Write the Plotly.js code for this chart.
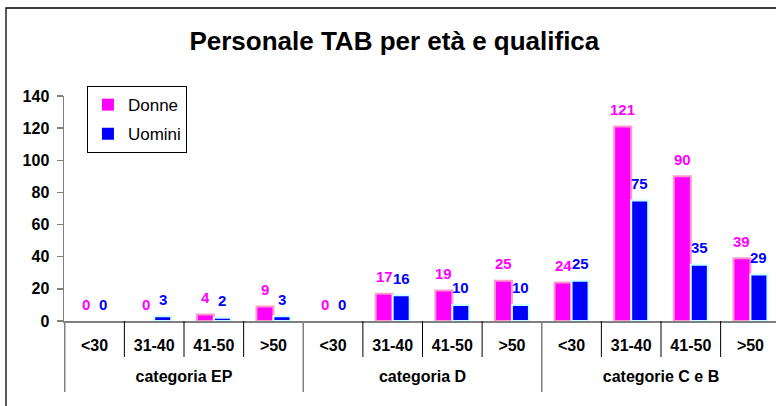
<!DOCTYPE html>
<html>
<head>
<meta charset="utf-8">
<script src="https://cdn.plot.ly/plotly-3.0.1.min.js"></script>
<style>
  html, body { margin: 0; padding: 0; background: #ffffff; overflow: hidden; }
  #chart { width: 784px; height: 406px; }
</style>
</head>
<body>
<div id="chart"></div>
<script>
// ---- data ----
const groups = ['categoria EP', 'categoria D', 'categorie C e B'];
const ages = ['<30', '31-40', '41-50', '>50'];
const donne = [0, 0, 4, 9, 0, 17, 19, 25, 24, 121, 90, 39];
const uomini = [0, 3, 2, 3, 0, 16, 10, 10, 25, 75, 35, 29];
const seriesNames = ['Donne', 'Uomini'];
const yTicks = [0, 20, 40, 60, 80, 100, 120, 140];

// ---- styling ----
const FONT = 'Liberation Sans, Arial, Helvetica, sans-serif';
const pinkFill = '#ff00ff', pinkLine = '#ff99cc';
const blueFill = '#0000ff', blueLine = '#ccffff';
const BARGAP = 0.43;

// group labels are pushed one line lower, as in the reference
const xGroups = groups.flatMap(g => ages.map(() => '<br>' + g));
const xAges = groups.flatMap(() => ages);
const xMulti = [xGroups, xAges];

const traces = [
  {
    type: 'bar', name: seriesNames[0], x: xMulti, y: donne,
    marker: { color: pinkFill, line: { color: pinkLine, width: donne.map(v => v === 0 ? 0 : 2) } },
    legendgroup: 'd'
  },
  {
    type: 'bar', name: seriesNames[1], x: xMulti, y: uomini,
    marker: { color: blueFill, line: { color: blueLine, width: uomini.map(v => v === 0 ? 0 : 2) } },
    legendgroup: 'u'
  }
];

// data labels above bars
const half = (1 - BARGAP) / 4;
const annotations = [];
donne.forEach((v, i) => annotations.push({
  x: i - half, y: v, xref: 'x', yref: 'y', text: String(v), showarrow: false,
  yanchor: 'middle', yshift: 17,
  font: { family: FONT, size: 15, color: pinkFill, weight: 'bold' }
}));
uomini.forEach((v, i) => annotations.push({
  x: i + half, y: v, xref: 'x', yref: 'y', text: String(v), showarrow: false,
  yanchor: 'middle', yshift: 17,
  font: { family: FONT, size: 15, color: blueFill, weight: 'bold' }
}));

// divider lines between categories
const shapes = [];
const n = xAges.length;
for (let k = 0; k <= n; k++) {
  const major = (k % ages.length === 0);
  shapes.push({
    type: 'line', xref: 'x', yref: 'paper',
    x0: k - 0.5, x1: k - 0.5, y0: 0, y1: major ? -0.316 : -0.16,
    line: { color: major ? '#808080' : '#000000', width: major ? 1.5 : 1 }
  });
}
// outer chart border (left and top visible)
shapes.push({
  type: 'rect', xref: 'paper', yref: 'paper',
  x0: -0.0809, x1: 1.5, y0: -1, y1: 1.391,
  line: { color: '#000000', width: 1.3 }, fillcolor: 'rgba(0,0,0,0)'
});

const layout = {
  width: 784, height: 406,
  margin: { l: 64, r: 3, t: 96, b: 85 },
  paper_bgcolor: '#ffffff', plot_bgcolor: '#ffffff',
  font: { family: FONT, color: '#000000' },
  title: {
    text: 'Personale TAB per età e qualifica',
    font: { family: FONT, size: 26, weight: 'bold', color: '#000000' },
    xref: 'container', yref: 'container', x: 0.503, y: 0.899,
    xanchor: 'center', yanchor: 'middle'
  },
  barmode: 'group', bargap: BARGAP, bargroupgap: 0,
  showlegend: true,
  legend: {
    x: 0.032, y: 1.044, xanchor: 'left', yanchor: 'top',
    bordercolor: '#000000', borderwidth: 1, bgcolor: '#ffffff',
    font: { family: FONT, size: 17, color: '#000000' },
    traceorder: 'grouped', tracegroupgap: 4
  },
  xaxis: {
    type: 'multicategory',
    showline: true, linecolor: '#808080', linewidth: 1.5,
    showgrid: false, zeroline: false,
    showdividers: false,
    ticks: '', ticklabelstandoff: 9,
    tickfont: { family: FONT, size: 16, weight: 'bold', color: '#000000' }
  },
  yaxis: {
    range: [0, 140], tickvals: yTicks, ticktext: yTicks.map(String),
    showline: true, linecolor: '#808080', linewidth: 1.5,
    showgrid: false, zeroline: false,
    ticks: 'outside', ticklen: 6, tickcolor: '#808080', tickwidth: 1.5,
    ticklabelstandoff: 4,
    tickfont: { family: FONT, size: 16, weight: 'bold', color: '#000000' }
  },
  annotations: annotations,
  shapes: shapes
};

Plotly.newPlot('chart', traces, layout, { displayModeBar: false, staticPlot: true });
</script>
</body>
</html>
